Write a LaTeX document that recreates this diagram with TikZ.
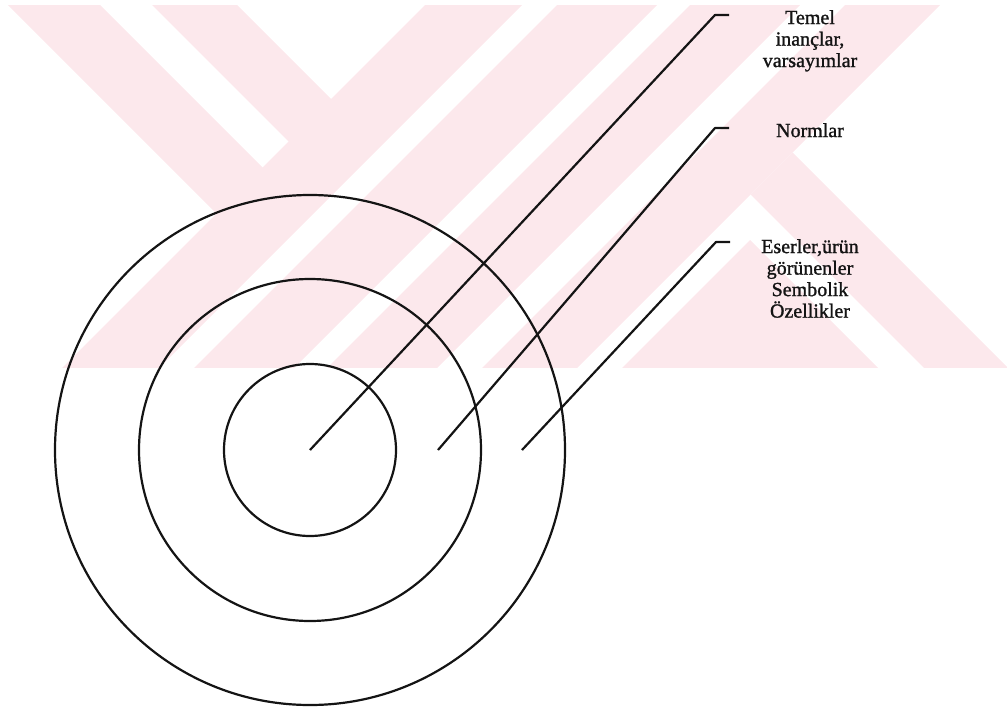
\documentclass[tikz,border=0pt]{standalone}
\definecolor{inkblack}{RGB}{20,20,20}
\definecolor{markpink}{RGB}{252,232,236}
\usepackage{fontspec}
\setmainfont{Liberation Serif}
\newfontfamily\scanfont[FakeBold=1.2]{Liberation Serif}
\usepackage{tikz}
\usetikzlibrary{positioning}
\tikzset{
  ring/.style={circle, draw=inkblack, line width=2.2pt, inner sep=0pt},
  leader/.style={draw=inkblack, line width=2.2pt, line join=round},
  layerlabel/.style={font=\scanfont\fontsize{20}{21.5}\selectfont, text=inkblack,
    align=center, inner sep=0pt, anchor=north},
}

\begin{document}
\begin{tikzpicture}[x=1pt, y=-1pt,
  wmark/.style={fill=markpink, draw=none}
]

\useasboundingbox (0,0) rectangle (1007,707);

% faint stripes behind the figure
\begin{scope}
  \clip (0,5) rectangle (1007,367);
  \fill[wmark] (3,0) -- (95,0) -- (265,170) -- (219,216) -- cycle;
  \fill[wmark] (147,0) -- (232,0) -- (333.5,101.5) -- (291,144) -- cycle;
  \foreach \a/\b in {430/527, 562/662, 695/805, 850/945}
    \fill[wmark] (\a,0) -- (\b,0) -- (\b-400,400) -- (\a-400,400) -- cycle;
  \fill[wmark] (750,240) -- (910,400) -- (590,400) -- cycle;
  \fill[wmark] (750.5,194.5) -- (792.5,152.5) -- (1040,400) -- (956,400) -- cycle;
\end{scope}

\node[ring, minimum size=172pt] (IN)  at (310,450) {};
\node[ring, minimum size=342pt] (MID) at (310,450) {};
\node[ring, minimum size=510pt] (OUT) at (310,450) {};

\coordinate (s2) at (438,450);
\coordinate (s3) at (522,450);
\coordinate (k1) at (715,15);
\coordinate (k2) at (715,128);
\coordinate (k3) at (716,242);
\coordinate (t1) at (729,15);
\coordinate (t2) at (729,128);
\coordinate (t3) at (730,242);

\draw[leader] (IN.center) -- (k1) -- (t1);
\draw[leader] (s2) -- (k2) -- (t2);
\draw[leader] (s3) -- (k3) -- (t3);

\node[layerlabel] (TB) at (810,10)  {Temel\\inançlar,\\varsayımlar};
\node[layerlabel] (NR) at (810,123) {Normlar};
\node[layerlabel] (ES) at (810,239) {Eserler,ürün\\görünenler\\Sembolik\\Özellikler};

\end{tikzpicture}
\end{document}
